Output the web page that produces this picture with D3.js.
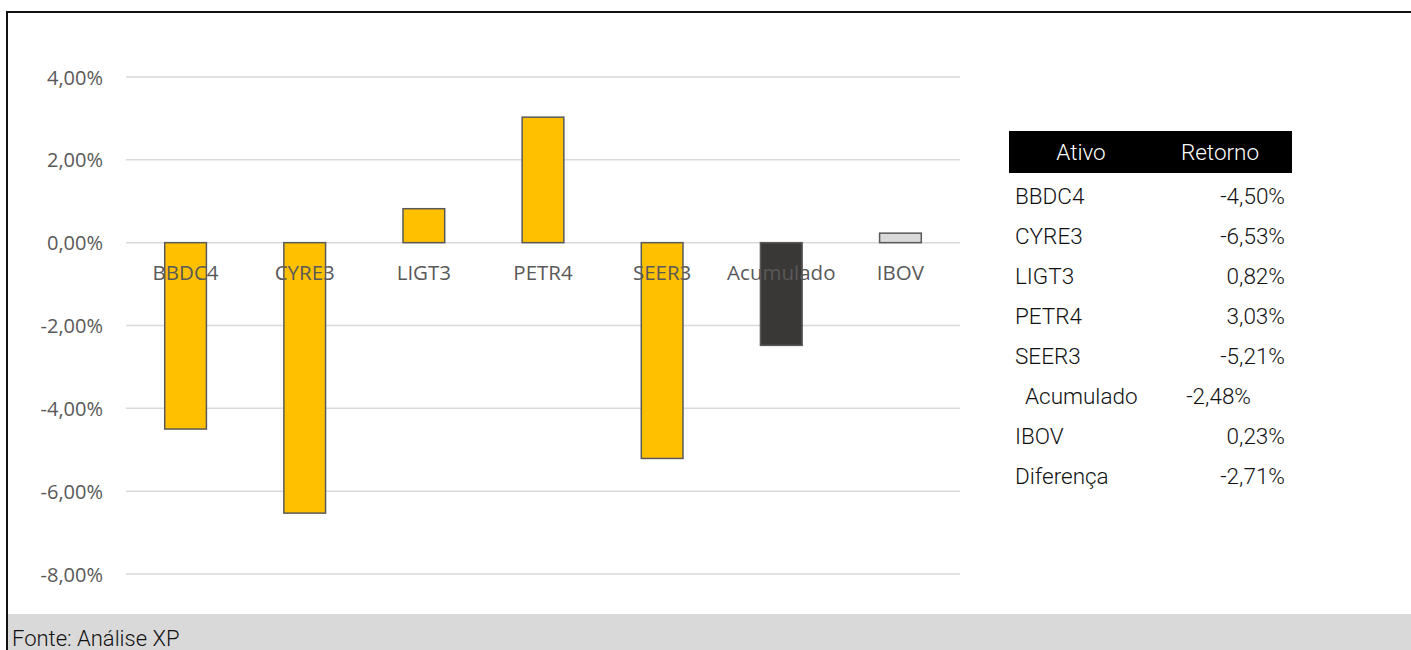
<!DOCTYPE html>
<html><head><meta charset="utf-8">
<script src="https://cdn.jsdelivr.net/npm/d3@7"></script>
<style>html,body{margin:0;padding:0;background:#fff;}svg{display:block;}</style>
</head><body>
<svg id="c" width="1411" height="650"></svg>
<script>
const categories = ["BBDC4","CYRE3","LIGT3","PETR4","SEER3","Acumulado","IBOV"];
const values = [-4.50,-6.53,0.82,3.03,-5.21,-2.48,0.23];
const barColors = ["#FFC000","#FFC000","#FFC000","#FFC000","#FFC000","#3A3836","#D9D9D9"];
const yTicks = [4,2,0,-2,-4,-6,-8];
const tableHeader = ["Ativo","Retorno"];
const tableNames = ["BBDC4","CYRE3","LIGT3","PETR4","SEER3","Acumulado","IBOV","Diferença"];
const tableValues = ["-4,50%","-6,53%","0,82%","3,03%","-5,21%","-2,48%","0,23%","-2,71%"];
const source = "Fonte: Análise XP";

const svg = d3.select("#c");
const W = 1411, H = 650;

// outer frame
svg.append("rect").attr("x",8).attr("y",614).attr("width",W-8).attr("height",36).attr("fill","#D9D9D9");
svg.append("line").attr("x1",7).attr("x2",W).attr("y1",12).attr("y2",12).attr("stroke","#111").attr("stroke-width",2);
svg.append("line").attr("x1",7).attr("x2",7).attr("y1",11).attr("y2",H).attr("stroke","#111").attr("stroke-width",2);
svg.append("text").attr("x",12).attr("y",646).text(source)
  .attr("font-family","Roboto").attr("font-weight",300).attr("font-size",22).attr("fill","#111");

const x = d3.scaleBand().domain(categories).range([126,960]).paddingInner(0.65).paddingOuter(0.325);
const y = d3.scaleLinear().domain([-8,4]).range([574,77]);

const font = "'Open Sans', 'Noto Sans', sans-serif";
// gridlines
svg.append("g").selectAll("line").data(yTicks).join("line")
  .attr("x1",126).attr("x2",960).attr("y1",d=>y(d)).attr("y2",d=>y(d))
  .attr("stroke","#D9D9D9").attr("stroke-width",1.5);

const fmt = d => (d<0?"-":"") + Math.abs(d).toFixed(2).replace(".",",") + "%";
const yAxis = svg.append("g").attr("transform","translate(103,0)")
  .call(d3.axisLeft(y).tickValues(yTicks).tickFormat(fmt).tickSize(0).tickPadding(0));
yAxis.select(".domain").remove();
yAxis.selectAll("text").attr("font-family",font).attr("font-size",20).attr("fill","#595959").attr("dy","0.35em");

// bars
svg.append("g").selectAll("rect").data(values).join("rect")
  .attr("x",(d,i)=>x(categories[i]))
  .attr("width",x.bandwidth())
  .attr("y",d=>y(Math.max(0,d)))
  .attr("height",d=>Math.abs(y(d)-y(0)))
  .attr("fill",(d,i)=>barColors[i])
  .attr("stroke","#595959").attr("stroke-width",1.5);

// category labels
const xAxis = svg.append("g").attr("transform",`translate(0,${y(0)})`)
  .call(d3.axisBottom(x).tickSize(0).tickPadding(0));
xAxis.select(".domain").remove();
xAxis.selectAll("text").attr("font-family",font).attr("font-size",20.5).attr("fill","#595959")
  .attr("dy",null).attr("y",37);

// table
const tb = svg.append("g");
tb.append("rect").attr("x",1009).attr("y",131).attr("width",283).attr("height",42).attr("fill","#000");
const tf = "Roboto";
const fs = 22.5;
tb.append("text").attr("x",1081).attr("y",160).attr("text-anchor","middle").text(tableHeader[0])
  .attr("font-family",tf).attr("font-weight",300).attr("font-size",fs).attr("fill","#fff");
tb.append("text").attr("x",1220).attr("y",160).attr("text-anchor","middle").text(tableHeader[1])
  .attr("font-family",tf).attr("font-weight",300).attr("font-size",fs).attr("fill","#fff");
tableNames.forEach((n,i)=>{
  const yy = 204 + i*40;
  const special = n==="Acumulado";
  tb.append("text").attr("x",special?1025:1015).attr("y",yy).text(n)
    .attr("font-family",tf).attr("font-weight",300).attr("font-size",fs).attr("fill","#111");
  tb.append("text").attr("x",special?1251:1285).attr("y",yy).attr("text-anchor","end").text(tableValues[i])
    .attr("font-family",tf).attr("font-weight",300).attr("font-size",fs).attr("fill","#111");
});
</script>
</body></html>
